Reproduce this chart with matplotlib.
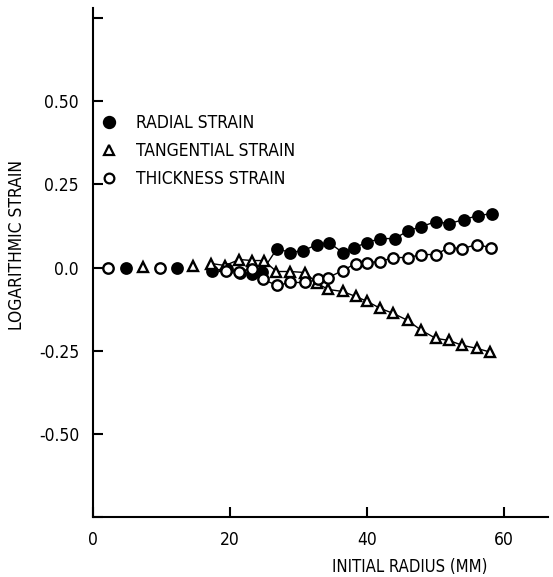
import matplotlib.pyplot as plt
import numpy as np
from matplotlib.lines import Line2D

plt.rcParams['font.family'] = ['DejaVu Sans']
plt.rcParams['font.stretch'] = 'condensed'

# radial strain (filled circles)
radial_x = [4.8, 12.3, 17.4, 19.6, 21.5, 23.3, 24.7, 26.9, 28.8, 30.7, 32.8, 34.5,
            36.5, 38.2, 40.0, 42.0, 44.1, 46.1, 48.0, 50.1, 52.0, 54.2, 56.2, 58.3]
radial_y = [0.0, 0.0, -0.009, -0.003, -0.015, -0.018, -0.012, 0.057, 0.045, 0.051, 0.069, 0.075,
            0.045, 0.060, 0.075, 0.087, 0.087, 0.111, 0.123, 0.138, 0.132, 0.144, 0.156, 0.162]

# tangential strain (open triangles)
tang_x = [7.3, 14.6, 17.3, 19.3, 21.4, 23.3, 25.0, 26.8, 28.8, 31.0, 32.8, 34.4,
          36.5, 38.4, 40.1, 42.0, 43.9, 46.0, 48.0, 50.1, 52.0, 54.0, 56.1, 58.0]
tang_y = [0.003, 0.006, 0.012, 0.006, 0.024, 0.021, 0.021, -0.012, -0.012, -0.015, -0.048, -0.066,
          -0.072, -0.087, -0.102, -0.123, -0.138, -0.159, -0.189, -0.213, -0.219, -0.234, -0.243, -0.254]

# thickness strain (open circles)
thick_x = [2.2, 9.8, 19.4, 21.4, 23.3, 24.9, 26.9, 28.8, 31.0, 32.9, 34.4, 36.5,
           38.4, 40.1, 42.0, 43.9, 46.1, 48.0, 50.1, 52.0, 54.0, 56.1, 58.1]
thick_y = [0.0, 0.0, -0.009, -0.012, -0.003, -0.036, -0.054, -0.045, -0.045, -0.036, -0.030, -0.009,
           0.012, 0.015, 0.018, 0.030, 0.030, 0.039, 0.039, 0.060, 0.057, 0.069, 0.060]

x_ticks = [0, 20, 40, 60]
y_ticks = [-0.75, -0.50, -0.25, 0.0, 0.25, 0.50, 0.75]
y_ticklabels = ['', '-0.50', '-0.25', '0.0', '0.25', '0.50', '']

fig = plt.figure(figsize=(5.53, 5.77), dpi=100)
ax = fig.add_axes([0.168, 0.104, 0.823, 0.882])

series = [
    (radial_x, radial_y, dict(marker='o', mfc='black', mec='black')),
    (tang_x, tang_y, dict(marker='^', mfc='white', mec='black')),
    (thick_x, thick_y, dict(marker='o', mfc='white', mec='black')),
]
for xs, ys, st in series:
    xs = np.array(xs)
    ys = np.array(ys)
    m = xs > 16
    ax.plot(xs[m], ys[m], '-', color='black', lw=1.0, zorder=1)
    ax.plot(xs, ys, linestyle='none', ms=7.5, mew=1.7, zorder=2, **st)

ax.set_xlim(0, 66.5)
ax.set_ylim(-0.75, 0.78)
ax.set_xticks(x_ticks)
ax.set_yticks(y_ticks)
ax.set_yticklabels(y_ticklabels)
ax.spines['top'].set_visible(False)
ax.spines['right'].set_visible(False)
ax.spines['left'].set_linewidth(1.5)
ax.spines['bottom'].set_linewidth(1.5)
ax.tick_params(direction='in', length=7, width=1.5, labelsize=12.5, pad=10)

ax.set_xlabel('INITIAL RADIUS (MM)', fontsize=12)
ax.set_ylabel('LOGARITHMIC STRAIN', fontsize=12.5)
ax.xaxis.set_label_coords(0.697, -0.080)
ax.yaxis.set_label_coords(-0.148, 0.535)

handles = [
    Line2D([], [], linestyle='none', marker='o', mfc='black', mec='black', ms=8, mew=1.6),
    Line2D([], [], linestyle='none', marker='^', mfc='white', mec='black', ms=6.5, mew=1.6),
    Line2D([], [], linestyle='none', marker='o', mfc='white', mec='black', ms=7, mew=1.6),
]
labels = ['RADIAL STRAIN', 'TANGENTIAL STRAIN', 'THICKNESS STRAIN']
ax.legend(handles, labels, loc='upper left', bbox_to_anchor=(0.0, 0.806), frameon=False,
          fontsize=12.5, handletextpad=1.1, labelspacing=0.58, handlelength=1.0,
          borderaxespad=0)

fig.savefig('out.png', dpi=100)
